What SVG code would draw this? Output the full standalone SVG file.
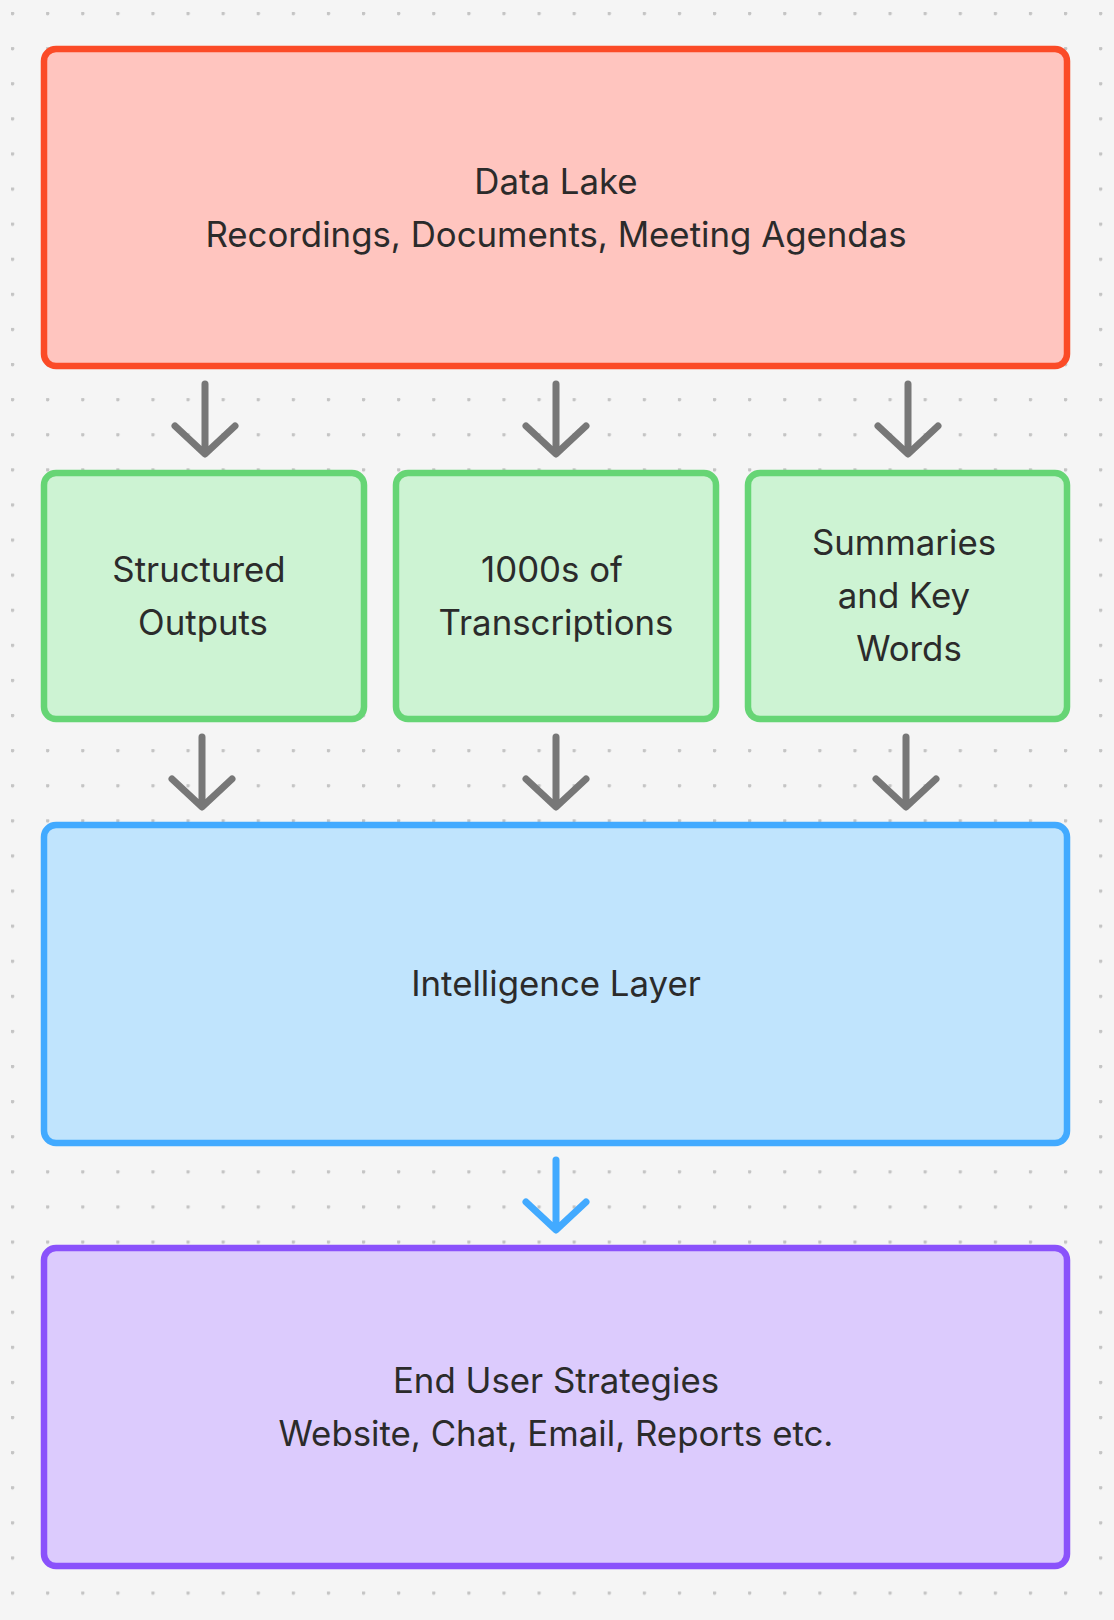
<svg xmlns="http://www.w3.org/2000/svg" width="1114" height="1620" viewBox="0 0 1114 1620">
<defs>
<pattern id="dots" x="11" y="12" width="35.1" height="35.1" patternUnits="userSpaceOnUse"><circle cx="1.5" cy="1.5" r="1.8" fill="#c4c4c4"/></pattern>
<style>
text{font-family:Inter,"Noto Sans",sans-serif;font-size:34.8px;fill:#2b2b2b;text-anchor:middle}
.box{stroke-width:6.5}
.a{fill:none;stroke:#777;stroke-width:7;stroke-linecap:round;stroke-linejoin:round}
.b{stroke:#42aaff}
</style>
</defs>
<rect width="1114" height="1620" fill="#f5f5f5"/>
<rect width="1114" height="1620" fill="url(#dots)"/>
<g id="datalake"><rect class="box" x="44" y="49" width="1023" height="317" rx="12" fill="#ffc5bf" stroke="#fb4b27"/>
<text x="556" y="194">Data Lake</text><text x="556" y="247">Recordings, Documents, Meeting Agendas</text></g>
<g id="structured"><rect class="box" x="44" y="473" width="320" height="246" rx="12" fill="#cdf3d3" stroke="#66d575"/>
<text x="199" y="582">Structured</text><text x="203" y="635">Outputs</text></g>
<g id="transcriptions"><rect class="box" x="396" y="473" width="320" height="246" rx="12" fill="#cdf3d3" stroke="#66d575"/>
<text x="552" y="582">1000s of</text><text x="556" y="635">Transcriptions</text></g>
<g id="summaries"><rect class="box" x="748" y="473" width="319" height="246" rx="12" fill="#cdf3d3" stroke="#66d575"/>
<text x="904" y="555">Summaries</text><text x="904" y="608">and Key</text><text x="909" y="661">Words</text></g>
<g id="intelligence"><rect class="box" x="44" y="825" width="1023" height="318" rx="12" fill="#c0e4fd" stroke="#42aaff"/>
<text x="556" y="996">Intelligence Layer</text></g>
<g id="enduser"><rect class="box" x="44" y="1248" width="1023" height="318" rx="12" fill="#dccbfd" stroke="#8a52fb"/>
<text x="556" y="1393">End User Strategies</text><text x="556" y="1446">Website, Chat, Email, Reports etc.</text></g>
<g id="connectors">
<path class="a" d="M205 384V452M175 426L205 454L235 426"/>
<path class="a" d="M556 384V452M526 426L556 454L586 426"/>
<path class="a" d="M908 384V452M878 426L908 454L938 426"/>
<path class="a" d="M202 737V805M172 779L202 807L232 779"/>
<path class="a" d="M556 737V805M526 779L556 807L586 779"/>
<path class="a" d="M906 737V805M876 779L906 807L936 779"/>
<path class="a b" d="M556 1160V1228M526 1202L556 1230L586 1202"/>
</g>
</svg>
